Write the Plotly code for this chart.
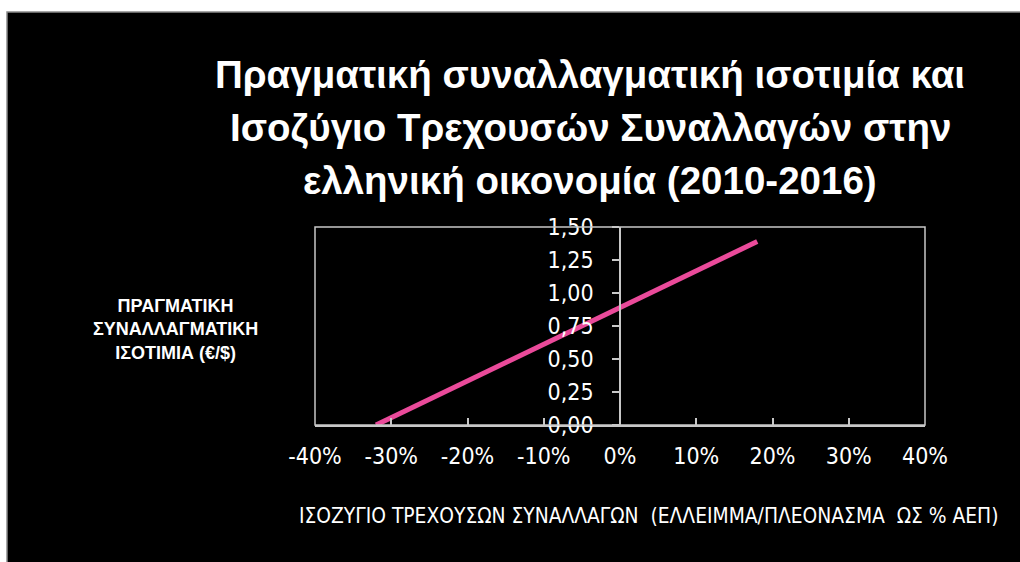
import plotly.graph_objects as go

# Data
balance_pct = [-32, 18]          # current account balance (% of GDP)
real_rate = [0.0, 1.39]          # real exchange rate (€/$)
x_ticks = [-40, -30, -20, -10, 0, 10, 20, 30, 40]
x_tick_labels = ["-40%", "-30%", "-20%", "-10%", "0%", "10%", "20%", "30%", "40%"]
y_ticks = [0, 0.25, 0.5, 0.75, 1.0, 1.25, 1.5]

title_lines = [
    "Πραγματική συναλλαγματική ισοτιμία και",
    "Ισοζύγιο Τρεχουσών Συναλλαγών στην",
    "ελληνική οικονομία (2010-2016)",
]
y_title = "ΠΡΑΓΜΑΤΙΚΗ<br>ΣΥΝΑΛΛΑΓΜΑΤΙΚΗ<br>ΙΣΟΤΙΜΙΑ (€/$)"
x_title = "ΙΣΟΖΥΓΙΟ ΤΡΕΧΟΥΣΩΝ ΣΥΝΑΛΛΑΓΩΝ  (ΕΛΛΕΙΜΜΑ/ΠΛΕΟΝΑΣΜΑ  ΩΣ % ΑΕΠ)"

W, H = 1020, 562
L, R, T, B = 315, 925, 227, 425


def px_x(px):
    return (px - L) / (R - L)


def px_y(py):
    return (B - py) / (B - T)


narrow = "Liberation Sans Narrow, Arial Narrow, DejaVu Sans Condensed, sans-serif"
bold = "Liberation Sans, Arial, sans-serif"
axis_col = "#c8c8c8"

fig = go.Figure()
fig.add_trace(go.Scatter(
    x=balance_pct, y=real_rate, mode="lines",
    line=dict(color="#ea4a9a", width=5),
    hoverinfo="skip", showlegend=False,
))

shapes = [
    # black slide background with thin gray border
    dict(type="rect", xref="paper", yref="paper",
         x0=px_x(7), x1=px_x(1040), y0=px_y(580), y1=px_y(12),
         fillcolor="black", line=dict(color="#8a8a8a", width=1.5), layer="below"),
    # plot frame
    dict(type="rect", xref="paper", yref="paper", x0=0, x1=1, y0=0, y1=1,
         line=dict(color=axis_col, width=1.5), layer="above"),
]

annotations = []
for line, cy in zip(title_lines, [74, 127.5, 180.5]):
    annotations.append(dict(
        text=line, xref="paper", yref="paper", x=px_x(590), y=px_y(cy),
        xanchor="center", yanchor="middle", showarrow=False,
        font=dict(family=bold, size=38.5, color="white", weight="bold"),
    ))
annotations.append(dict(
    text=y_title, xref="paper", yref="paper", x=px_x(175), y=px_y(329),
    xanchor="center", yanchor="middle", showarrow=False, align="center",
    font=dict(family=bold, size=18, color="white", weight="bold"),
))
annotations.append(dict(
    text=x_title, xref="paper", yref="paper", x=px_x(297), y=px_y(516),
    xanchor="left", yanchor="middle", showarrow=False,
    font=dict(family=narrow, size=20.8, color="white"),
))

fig.update_layout(
    width=W, height=H,
    margin=dict(l=L, r=W - R, t=T, b=H - B, pad=0),
    paper_bgcolor="white", plot_bgcolor="black",
    separators=",.",
    shapes=shapes, annotations=annotations,
    xaxis=dict(
        range=[-40, 40], tickvals=x_ticks, ticktext=x_tick_labels,
        showgrid=False, zeroline=False, showline=True, linecolor=axis_col, linewidth=1.5,
        ticks="inside", ticklen=7, tickcolor=axis_col, tickwidth=1.5,
        ticklabelstandoff=10,
        tickfont=dict(family=narrow, size=23, color="white"),
        fixedrange=True,
    ),
    yaxis=dict(
        range=[0, 1.5], tickvals=y_ticks, tickformat=".2f",
        anchor="free", position=0.5,
        showgrid=False, zeroline=False, showline=True, linecolor=axis_col, linewidth=1.5,
        ticks="outside", ticklen=7, tickcolor=axis_col, tickwidth=1.5,
        ticklabelstandoff=14,
        tickfont=dict(family=narrow, size=23, color="white"),
        fixedrange=True,
    ),
)

fig.write_html("out.html")
